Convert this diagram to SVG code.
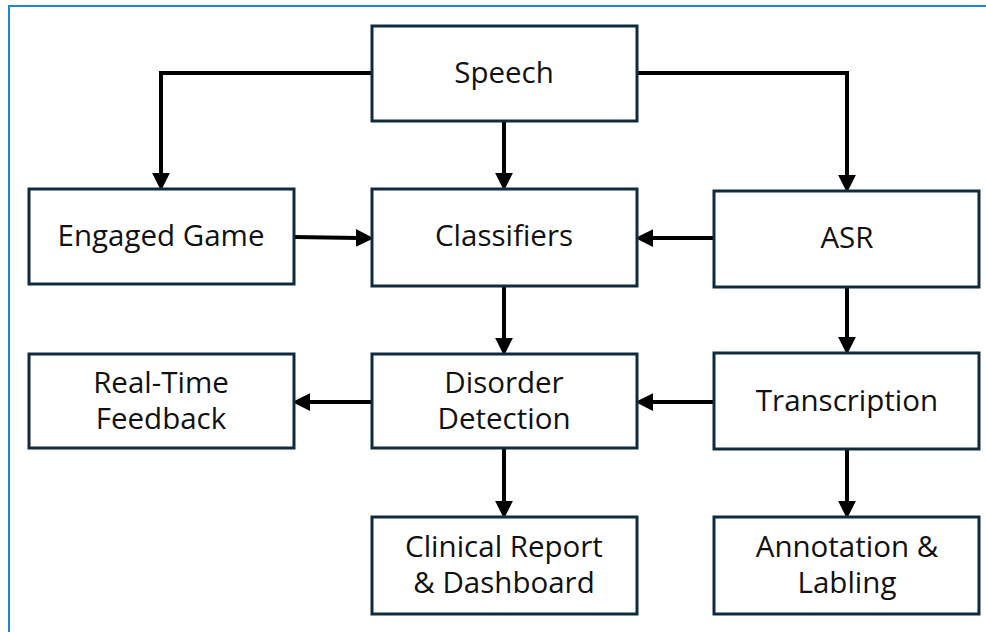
<svg xmlns="http://www.w3.org/2000/svg" width="986" height="632" viewBox="0 0 986 632">
  <style>
    .box { fill: #ffffff; stroke: #0f2b3d; stroke-width: 3; }
    .lbl { font-family: "Open Sans", "Liberation Sans", sans-serif; font-size: 29.5px; fill: #111111; text-anchor: middle; }
    .conn { fill: none; stroke: #000000; stroke-width: 4; stroke-linejoin: miter; }
    .frame { fill: none; stroke: #1e88c8; stroke-width: 2; }
  </style>
  <defs>
    <marker id="arrow" markerUnits="userSpaceOnUse" markerWidth="18" markerHeight="18" viewBox="0 0 16 16" refX="2" refY="8" orient="auto">
      <path d="M0,0 L16,8 L0,16 z" fill="#000000"/>
    </marker>
  </defs>
  <rect width="986" height="632" fill="#ffffff"/>
  <path class="frame" d="M9,632 L9,6 L986,6"/>

  <g id="connectors">
    <path class="conn" d="M372,73 L161,73 L161,175" marker-end="url(#arrow)"/>
    <path class="conn" d="M637,73 L847,73 L847,177" marker-end="url(#arrow)"/>
    <path class="conn" d="M504,121 L504,175" marker-end="url(#arrow)"/>
    <path class="conn" d="M294,237 L358,238" marker-end="url(#arrow)"/>
    <path class="conn" d="M714,238 L651,238" marker-end="url(#arrow)"/>
    <path class="conn" d="M504,286 L504,340" marker-end="url(#arrow)"/>
    <path class="conn" d="M847,287 L847,339" marker-end="url(#arrow)"/>
    <path class="conn" d="M714,402 L651,402" marker-end="url(#arrow)"/>
    <path class="conn" d="M372,402 L308,402" marker-end="url(#arrow)"/>
    <path class="conn" d="M504,448 L504,503" marker-end="url(#arrow)"/>
    <path class="conn" d="M847,449 L847,503" marker-end="url(#arrow)"/>
  </g>

  <g id="speech">
    <rect class="box" x="372" y="26" width="265" height="95"/>
    <text class="lbl" x="504" y="83">Speech</text>
  </g>
  <g id="engaged-game">
    <rect class="box" x="29" y="189" width="265" height="95"/>
    <text class="lbl" x="161" y="246">Engaged Game</text>
  </g>
  <g id="classifiers">
    <rect class="box" x="372" y="189" width="265" height="97"/>
    <text class="lbl" x="504" y="246">Classifiers</text>
  </g>
  <g id="asr">
    <rect class="box" x="714" y="191" width="265" height="96"/>
    <text class="lbl" x="847" y="248">ASR</text>
  </g>
  <g id="real-time-feedback">
    <rect class="box" x="29" y="354" width="265" height="94"/>
    <text class="lbl" x="161" y="393">Real-Time</text>
    <text class="lbl" x="161" y="429">Feedback</text>
  </g>
  <g id="disorder-detection">
    <rect class="box" x="372" y="354" width="265" height="94"/>
    <text class="lbl" x="504" y="393">Disorder</text>
    <text class="lbl" x="504" y="429">Detection</text>
  </g>
  <g id="transcription">
    <rect class="box" x="714" y="353" width="265" height="96"/>
    <text class="lbl" x="847" y="411">Transcription</text>
  </g>
  <g id="clinical-report">
    <rect class="box" x="372" y="517" width="265" height="97"/>
    <text class="lbl" x="504" y="557">Clinical Report</text>
    <text class="lbl" x="504" y="593">&amp; Dashboard</text>
  </g>
  <g id="annotation-labling">
    <rect class="box" x="714" y="517" width="265" height="97"/>
    <text class="lbl" x="847" y="557">Annotation &amp;</text>
    <text class="lbl" x="847" y="593">Labling</text>
  </g>
</svg>
